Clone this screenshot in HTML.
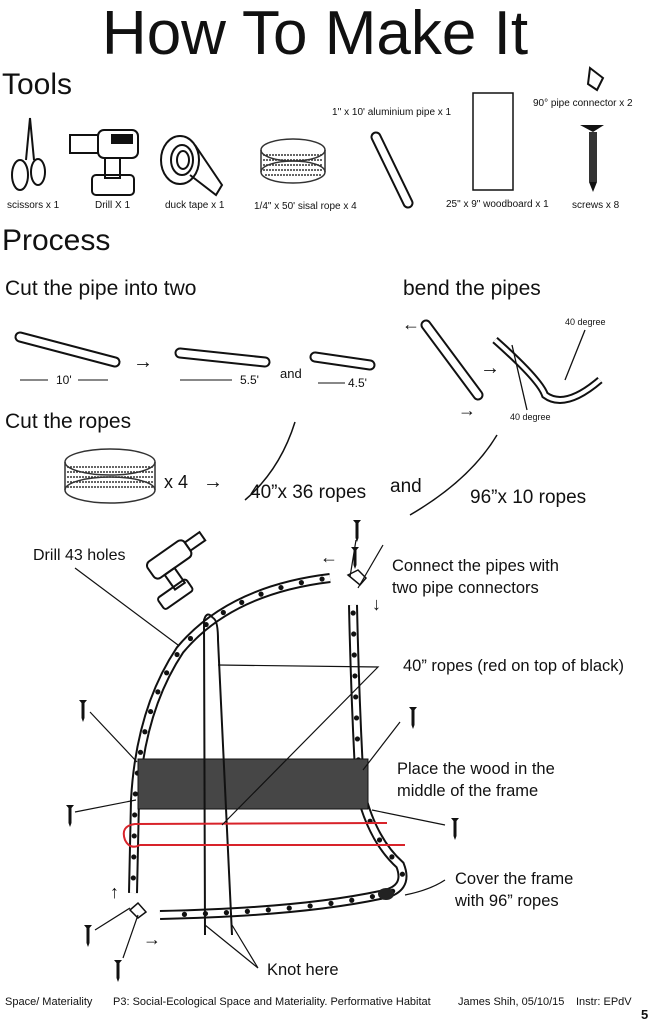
<!DOCTYPE html>
<html><head><meta charset="utf-8">
<style>
html,body{margin:0;padding:0;background:#fff;}
svg{display:block;}
text{font-family:"Liberation Sans Narrow","Liberation Sans",sans-serif;fill:#111;}
</style></head>
<body>
<svg id="s" width="658" height="1024" viewBox="0 0 658 1024" xmlns="http://www.w3.org/2000/svg">
<text x="315" y="54" font-size="62" text-anchor="middle" style="font-family:'Liberation Sans',sans-serif">How To Make It</text>
<text x="2" y="94" font-size="30" style="font-family:'Liberation Sans',sans-serif">Tools</text>

<g fill="none" stroke="#111" stroke-width="2">
<path d="M30 118 L26 160 M30 118 L34 160"/>
<ellipse cx="20" cy="175" rx="8" ry="15"/><ellipse cx="38" cy="172" rx="7" ry="13"/>
</g>
<g fill="none" stroke="#111" stroke-width="2">
<rect x="98" y="130" width="40" height="28" rx="6"/><rect x="70" y="135" width="28" height="18"/>
<rect x="105" y="158" width="15" height="20"/><rect x="92" y="175" width="42" height="20" rx="4"/>
<rect x="112" y="135" width="20" height="8" fill="#111"/>
</g>
<g fill="none" stroke="#111" stroke-width="2">
<ellipse cx="180" cy="160" rx="19" ry="24"/><ellipse cx="182" cy="160" rx="11" ry="15"/><ellipse cx="183" cy="160" rx="6" ry="9"/>
<path d="M195 145 L222 185 L216 195 L190 175"/>
</g>
<g fill="none" stroke="#333" stroke-width="1.5">
<ellipse cx="293" cy="150" rx="32" ry="11"/><ellipse cx="293" cy="172" rx="32" ry="11"/>
<path d="M261 150 L261 172 M325 150 L325 172"/>
<path d="M263 155 H323 M263 160 H323 M263 165 H323 M263 170 H323 M265 175 H321" stroke-dasharray="2 1"/>
</g>
<text x="332" y="115" font-size="10">1'' x 10' aluminium pipe x 1</text>
<line x1="376" y1="137" x2="408" y2="203" stroke="#111" stroke-width="11" stroke-linecap="round"/>
<line x1="376" y1="137" x2="408" y2="203" stroke="#fff" stroke-width="7" stroke-linecap="round"/>
<rect x="473" y="93" width="40" height="97" fill="none" stroke="#111" stroke-width="1.5"/>
<path d="M590 68 L603 78 L597 90 L588 84 Z" fill="none" stroke="#111" stroke-width="2"/>
<text x="533" y="106" font-size="10">90° pipe connector x 2</text>
<g><path d="M580 125 H604 L593 132 Z" fill="#111"/><rect x="589" y="132" width="8" height="50" fill="#333"/><path d="M589 182 L593 192 L597 182" fill="#111"/></g>
<g font-size="10">
<text x="7" y="208">scissors x 1</text>
<text x="95" y="208">Drill X 1</text>
<text x="165" y="208">duck tape x 1</text>
<text x="254" y="209">1/4" x 50' sisal rope x 4</text>
<text x="446" y="207">25" x 9" woodboard x 1</text>
<text x="572" y="208">screws x 8</text>
</g>

<text x="2" y="250" font-size="30" style="font-family:'Liberation Sans',sans-serif">Process</text>
<text x="5" y="295" font-size="21">Cut the pipe into two</text>
<text x="403" y="295" font-size="21">bend the pipes</text>

<g id="pipes"></g>
<g fill="none" stroke="#111" stroke-width="1">
<line x1="20" y1="380" x2="48" y2="380"/><line x1="78" y1="380" x2="108" y2="380"/>
<line x1="180" y1="380" x2="232" y2="380"/><line x1="318" y1="383" x2="345" y2="383"/>
</g>
<text x="56" y="384" font-size="12">10'</text>
<text x="240" y="384" font-size="12">5.5'</text>
<text x="348" y="387" font-size="12">4.5'</text>
<text x="280" y="378" font-size="13">and</text>
<text x="133" y="368" font-size="20">→</text>
<text x="402" y="330" font-size="18">←</text>
<text x="458" y="416" font-size="18">→</text>
<text x="480" y="374" font-size="20">→</text>
<path d="M495 340 Q540 380 545 395 Q565 410 600 380" fill="none" stroke="#111" stroke-width="8"/>
<path d="M495 340 Q540 380 545 395 Q565 410 600 380" fill="none" stroke="#fff" stroke-width="4"/>
<text x="565" y="325" font-size="9">40 degree</text>
<text x="510" y="420" font-size="9">40 degree</text>
<path d="M585 330 L565 380 M527 410 L512 345" stroke="#111" fill="none" stroke-width="1.3"/>

<text x="5" y="428" font-size="21">Cut the ropes</text>
<g fill="none" stroke="#333" stroke-width="1.5">
<ellipse cx="110" cy="462" rx="45" ry="13"/><ellipse cx="110" cy="490" rx="45" ry="13"/>
<path d="M65 462 V490 M155 462 V490"/>
<path d="M67 467 H153 M67 472 H153 M67 477 H153 M67 482 H153 M67 487 H153" stroke-dasharray="2 1"/>
</g>
<text x="164" y="488" font-size="18">x 4</text>
<text x="203" y="488" font-size="20">→</text>
<path d="M245 500 Q280 470 295 422" fill="none" stroke="#111" stroke-width="1.5"/>
<text x="250" y="498" font-size="19">40”x 36 ropes</text>
<text x="390" y="492" font-size="19">and</text>
<path d="M410 515 Q470 480 497 435" fill="none" stroke="#111" stroke-width="1.5"/>
<text x="470" y="503" font-size="19">96”x 10 ropes</text>

<text x="33" y="560" font-size="16">Drill 43 holes</text>
<g fill="none" stroke="#111" stroke-width="2" transform="rotate(-35 170 565)">
<rect x="150" y="550" width="45" height="20" rx="5"/><rect x="195" y="555" width="18" height="10"/><rect x="160" y="570" width="12" height="18"/><rect x="140" y="585" width="35" height="14" rx="3"/>
</g>
<path id="leftPipe" d="M330 578 Q230 590 180 650 Q140 710 135 800 L133 893" fill="none"/>
<path id="rightPipe" d="M353 605 Q355 700 360 790 Q372 840 400 865 Q410 890 380 895 Q300 912 160 915" fill="none"/>
<g id="frame"></g>
<rect x="138" y="759" width="230" height="50" fill="#464646" stroke="#111"/>
<path d="M213 618 Q207 610 204 620 L205 935 M213 618 Q218 620 218 640 L232 935" fill="none" stroke="#111" stroke-width="2"/>
<path d="M387 823 L135 824 Q120 826 125 840 Q130 850 140 845 L405 845" fill="none" stroke="#d8232a" stroke-width="2"/>
<g stroke="#111" stroke-width="1.2" fill="none">
<path d="M75 568 L178 645"/><path d="M218 665 L378 667 L222 825"/>
<path d="M90 712 L137 762"/><path d="M75 812 L136 800"/><path d="M400 722 L363 770"/><path d="M372 810 L445 825"/>
<path d="M356 540 L350 577 M383 545 L358 588"/><path d="M95 930 L130 908 M123 958 L138 915"/>
<path d="M205 925 L258 968 M232 925 L258 968"/><path d="M405 895 Q430 890 445 880"/>
</g>
<g id="screws"></g>
<path d="M348 575 L358 570 L366 578 L360 585 Z M130 910 L138 903 L146 912 L138 918 Z" fill="none" stroke="#111" stroke-width="1.5"/>
<text x="320" y="563" font-size="18">←</text>
<text x="372" y="610" font-size="18">↓</text>
<text x="110" y="898" font-size="18">↑</text>
<text x="143" y="945" font-size="18">→</text>
<ellipse cx="386" cy="894" rx="8" ry="6" fill="#222"/>
<g font-size="16.5">
<text x="392" y="571">Connect the pipes with</text>
<text x="392" y="593">two pipe connectors</text>
<text x="403" y="671">40” ropes (red on top of black)</text>
<text x="397" y="774">Place the wood in the</text>
<text x="397" y="796">middle of the frame</text>
<text x="455" y="884">Cover the frame</text>
<text x="455" y="906">with 96” ropes</text>
<text x="267" y="975">Knot here</text>
</g>
<g font-size="11">
<text x="5" y="1005">Space/ Materiality</text>
<text x="113" y="1005">P3: Social-Ecological Space and Materiality. Performative Habitat</text>
<text x="458" y="1005">James Shih, 05/10/15</text>
<text x="576" y="1005">Instr: EPdV</text>
</g>
<text x="641" y="1019" font-size="13" font-weight="bold">5</text>
</svg>
<script>
const NS="http://www.w3.org/2000/svg";
const cutPipes=[[20,337,115,362],[180,353,265,362],[315,357,370,365],[426,325,478,395]];
const screwPos=[[357,520],[355,547],[83,700],[70,805],[413,707],[455,818],[88,925],[118,960]];
const pg=document.getElementById('pipes');
cutPipes.forEach(p=>{
 [["#111",11],["#fff",7]].forEach(([c,w])=>{
  const l=document.createElementNS(NS,'line');
  l.setAttribute('x1',p[0]);l.setAttribute('y1',p[1]);l.setAttribute('x2',p[2]);l.setAttribute('y2',p[3]);
  l.setAttribute('stroke',c);l.setAttribute('stroke-width',w);l.setAttribute('stroke-linecap','round');
  
  
  pg.appendChild(l);
 });
});
const fr=document.getElementById('frame');
['leftPipe','rightPipe'].forEach(id=>{
 const src=document.getElementById(id);const d=src.getAttribute('d');
 [["#111",10],["#fff",6]].forEach(([c,w])=>{
  const p=document.createElementNS(NS,'path');p.setAttribute('d',d);p.setAttribute('fill','none');
  p.setAttribute('stroke',c);p.setAttribute('stroke-width',w);
  
  
  fr.appendChild(p);
 });
 const L=src.getTotalLength();
 for(let s=8;s<L-4;s+=21){
  const pt=src.getPointAtLength(s);
  const c=document.createElementNS(NS,'circle');c.setAttribute('cx',pt.x);c.setAttribute('cy',pt.y);c.setAttribute('r',2.6);c.setAttribute('fill','#111');
  
  
  fr.appendChild(c);
 }
});
const sg=document.getElementById('screws');
screwPos.forEach(([x,y])=>{
 const g=document.createElementNS(NS,'path');
 g.setAttribute('d',`M${x-4} ${y} H${x+4} L${x+1.5} ${y+3} V${y+18} L${x} ${y+22} L${x-1.5} ${y+18} V${y+3} Z`);
 g.setAttribute('fill','#111');
 
 
 sg.appendChild(g);
});
</script>
</body></html>
